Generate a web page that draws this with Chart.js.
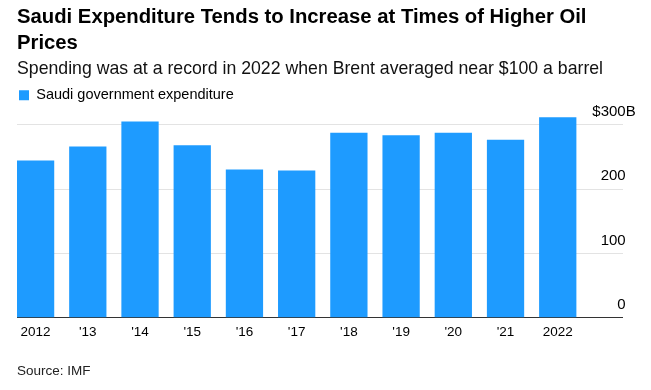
<!DOCTYPE html>
<html>
<head>
<meta charset="utf-8">
<script src="https://cdn.jsdelivr.net/npm/chart.js@4"></script>
<style>
  html, body { margin: 0; padding: 0; background: #fff; }
  #wrap { position: relative; width: 651px; height: 390px; }
  #source { position: absolute; left: 17px; top: 363px; font: 13.5px "Liberation Sans", Arial, sans-serif; color: #222; line-height: 16px; }
</style>
</head>
<body>
<div id="wrap">
  <canvas id="barChart" width="651" height="390"></canvas>
  <div id="source">Source: IMF</div>
</div>
<script>
var years = ['2012', "'13", "'14", "'15", "'16", "'17", "'18", "'19", "'20", "'21", '2022'];
var spending = [244.5, 266, 305, 268, 230.5, 229, 287.5, 283.5, 287.5, 276.5, 311.5];
var yTicks = [0, 100, 200, 300];

var fontFamily = '"Liberation Sans", Arial, sans-serif';
var blue = '#1e9bff';

var ctx = document.getElementById('barChart').getContext('2d');
var barChart = new Chart(ctx, {
    type: 'bar',
    data: {
        datasets: [{
            label: 'Saudi government expenditure',
            data: spending.map(function (v, i) { return { x: i, y: v }; }),
            backgroundColor: blue,
            borderWidth: 0,
            categoryPercentage: 1,
            barPercentage: 0.714
        }]
    },
    options: {
        responsive: false,
        animation: false,
        layout: {
            padding: { left: 17, right: 2.3, top: 0, bottom: 44 }
        },
        plugins: {
            title: {
                display: true,
                text: ['Saudi Expenditure Tends to Increase at Times of Higher Oil', 'Prices'],
                align: 'start',
                color: '#000',
                font: { family: fontFamily, size: 20.3, weight: 'bold', lineHeight: 1.25 },
                padding: { top: 5, bottom: 0 }
            },
            subtitle: {
                display: true,
                text: 'Spending was at a record in 2022 when Brent averaged near $100 a barrel',
                align: 'start',
                color: '#111',
                font: { family: fontFamily, size: 17.7, lineHeight: 1.2 },
                padding: { top: 3, bottom: 6 }
            },
            legend: {
                position: 'top',
                align: 'start',
                labels: {
                    boxWidth: 10,
                    boxHeight: 10,
                    padding: 2,
                    color: '#000',
                    font: { family: fontFamily, size: 14.5 }
                }
            },
            tooltip: { enabled: false }
        },
        scales: {
            x: {
                type: 'linear',
                offset: false,
                min: -0.356,
                max: 11.244,
                afterBuildTicks: function (axis) {
                    axis.ticks = years.map(function (y, i) { return { value: i }; });
                },
                grid: { display: false, drawTicks: false },
                border: { display: false },
                ticks: {
                    autoSkip: false,
                    maxRotation: 0,
                    padding: 6,
                    color: '#000',
                    font: { family: fontFamily, size: 13.5 },
                    callback: function (value) { return years[value]; }
                }
            },
            y: {
                position: 'right',
                min: 0,
                max: 319,
                afterBuildTicks: function (axis) {
                    axis.ticks = yTicks.map(function (v) { return { value: v }; });
                },
                border: { display: false },
                grid: {
                    drawTicks: false,
                    color: function (c) { return c.tick && c.tick.value === 0 ? '#333' : '#e3e3e3'; }
                },
                ticks: {
                    mirror: true,
                    padding: 13,
                    labelOffset: -13,
                    color: '#000',
                    font: { family: fontFamily, size: 15 },
                    callback: function (value) {
                        return value === 300 ? '$300B' : value + '\u2004\u2004';
                    }
                }
            }
        }
    }
});
</script>
</body>
</html>
